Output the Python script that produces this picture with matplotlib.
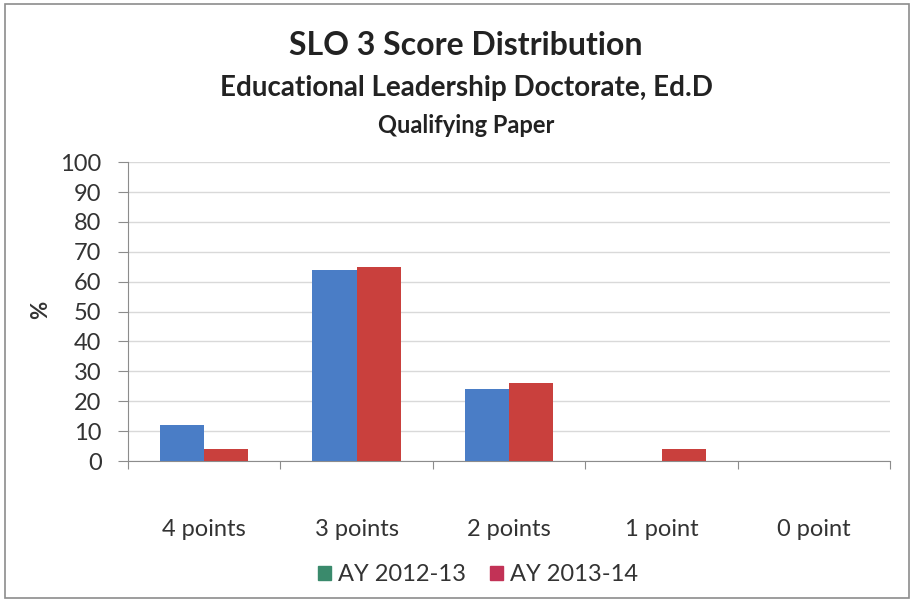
import numpy as np
import matplotlib
matplotlib.use('Agg')
import matplotlib.pyplot as plt
from matplotlib.patches import Patch, Rectangle

plt.rcParams['font.family'] = ['Lato', 'DejaVu Sans']

# data
categories = ['4 points', '3 points', '2 points', '1 point', '0 point']
ay_2012 = [12, 64, 24, 0, 0]
ay_2013 = [4, 65, 26, 4, 0]
series_names = ['AY 2012-13', 'AY 2013-14']
yticks = list(range(0, 101, 10))

bar_blue = '#4a7dc6'
bar_red = '#c9403d'
leg_green = '#3a8a6c'
leg_red = '#c23256'

fig = plt.figure(figsize=(9.14, 6.05), dpi=100)
fig.patch.set_facecolor('white')

# chart frame
fig.patches.append(Rectangle((0.006, 0.012), 0.988, 0.982, transform=fig.transFigure,
                             fill=False, edgecolor='#8c8c8c', linewidth=1.2))

ax = fig.add_axes([0.140, 0.238, 0.834, 0.494])

x = np.arange(len(categories))
w = 0.29
ax.bar(x - w / 2, ay_2012, width=w, color=bar_blue, zorder=3)
ax.bar(x + w / 2, ay_2013, width=w, color=bar_red, zorder=3)

ax.set_xlim(-0.5, len(categories) - 0.5)
ax.set_ylim(0, 100)
ax.set_yticks(yticks)
ax.yaxis.grid(True, color='#d9d9d9', linewidth=1)
ax.set_axisbelow(True)

# category labels on minor ticks, boundary ticks on major
ax.set_xticks(np.arange(-0.5, len(categories), 1))
ax.set_xticklabels([])
ax.set_xticks(x, minor=True)
ax.set_xticklabels(categories, minor=True, fontsize=17, color='#333333')
ax.tick_params(axis='x', which='minor', length=0, pad=42)
ax.tick_params(axis='x', which='major', length=6, color='#8c8c8c', direction='out')
ax.tick_params(axis='y', length=7, color='#8c8c8c', labelsize=17, labelcolor='#333333', pad=12)

for s in ['top', 'right']:
    ax.spines[s].set_visible(False)
ax.spines['left'].set_color('#8c8c8c')
ax.spines['bottom'].set_color('#8c8c8c')

fig.text(0.044, 0.487, '%', rotation=90, fontsize=16, fontweight='bold',
         color='#333333', ha='center', va='center')

fig.text(0.51, 0.925, 'SLO 3 Score Distribution', fontsize=23, fontweight='bold',
         color='#222222', ha='center', va='center')
fig.text(0.51, 0.855, 'Educational Leadership Doctorate, Ed.D', fontsize=20,
         fontweight='bold', color='#222222', ha='center', va='center')
fig.text(0.51, 0.793, 'Qualifying Paper', fontsize=17, fontweight='bold',
         color='#222222', ha='center', va='center')

handles = [Patch(color=leg_green), Patch(color=leg_red)]
fig.legend(handles, series_names, loc='center', bbox_to_anchor=(0.523, 0.05),
           ncol=2, frameon=False, fontsize=17, handlelength=0.55, handleheight=0.55,
           handletextpad=0.3, columnspacing=1.0, labelcolor='#333333')

fig.savefig('out.png', dpi=100)
